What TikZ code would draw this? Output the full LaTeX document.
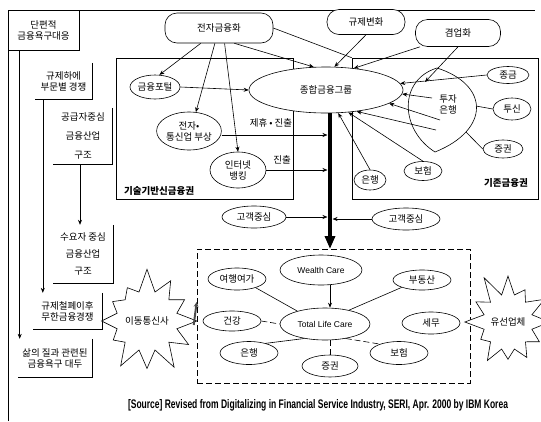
\documentclass[tikz,border=0pt]{standalone}
\usepackage{fontspec}
\setmainfont{Noto Sans CJK KR}
\newfontfamily\lat{Liberation Sans}
\usetikzlibrary{arrows.meta,shapes.geometric,shapes.symbols}
\begin{document}
\begin{tikzpicture}[x=1pt,y=-1pt,
  every node/.style={font=\fontsize{9.5}{11}\selectfont, align=center, inner sep=0pt},
  ell/.style={ellipse, draw, fill=white, line width=0.6pt},
  rbox/.style={rounded corners=12pt, draw, fill=white, line width=0.6pt},
  arr/.style={-{Stealth[length=5pt,width=4pt]}, line width=0.6pt},
  ln/.style={line width=0.6pt},
  dsh/.style={line width=0.6pt, dash pattern=on 6pt off 3pt},
  burst/.style={starburst, draw, fill=white, line width=0.6pt, starburst points=12, starburst point height=24pt},
]
\useasboundingbox (0,0) rectangle (541,421);
% outer frame
\draw[ln] (8,421) -- (8,10) -- (535,10);

% left column
\node[draw, line width=0.6pt, minimum width=71pt, minimum height=40pt] (A) at (43.5,30) {단편적\\금융욕구대응};
\node[minimum width=57pt, minimum height=36pt] (B) at (63.5,81) {규제하에\\부문별 경쟁};
\draw[ln] (B.north east) -- (B.south east) -- (B.south west);
\node[minimum width=59pt, minimum height=56pt, font=\fontsize{9.5}{19}\selectfont] (C) at (83,136) {공급자중심\\금융산업\\구조};
\draw[ln] (C.north east) -- (C.south east) -- (C.south west);
\node[minimum width=60pt, minimum height=58pt, font=\fontsize{9.5}{17}\selectfont] (E) at (83,254) {수요자 중심\\금융산업\\구조};
\draw[ln] (E.north east) -- (E.south east) -- (E.south west);
\node[minimum width=69pt, minimum height=36pt] (D) at (67.5,311) {규제철폐이후\\무한금융경쟁};
\draw[ln] (D.north east) -- (D.south east) -- (D.south west);
\node[minimum width=74pt, minimum height=38pt] (F) at (55,358) {삶의 질과 관련된\\금융욕구 대두};
\draw[ln] (F.north east) -- (F.south east) -- (F.south west);

\draw[arr] ([xshift=12pt]A.south west) -- ([xshift=12pt]A.south west |- F.north);
\draw[arr] ([xshift=8pt]B.south west) -- ([xshift=8pt]B.south west |- D.north);
\draw[arr] ([xshift=-3pt]C.south) -- ([xshift=-3pt]C.south |- E.north);

% top drivers
\node[rbox, minimum width=108pt, minimum height=30pt] (elec) at (219,28) {전자금융화};
\node[rbox, minimum width=78pt, minimum height=25pt] (reg) at (366,22) {규제변화};
\node[rbox, minimum width=85pt, minimum height=27pt] (univ) at (458,33) {겸업화};

% two regions
\node[draw, line width=0.6pt, minimum width=177pt, minimum height=141pt] (tech) at (204.5,128.5) {};
\node[anchor=west, font=\bfseries\fontsize{9.5}{11}\selectfont] (techlbl) at (124,191) {기술기반신금융권};
\node[draw, line width=0.6pt, minimum width=186pt, minimum height=141pt] (exist) at (445,128.5) {};
\node[font=\bfseries\fontsize{9.5}{11}\selectfont] (existlbl) at (506,183) {기존금융권};

% central group
\node[ell, minimum width=154pt, minimum height=46pt] (group) at (326,90) {종합금융그룹};

% tech nodes
\node[ell, minimum width=50pt, minimum height=24pt] (portal) at (155,87) {금융포털};
\node[ell, minimum width=64pt, minimum height=38pt] (telco) at (189,131) {전자•\\통신업 부상};
\node[ell, minimum width=56pt, minimum height=36pt] (inet) at (238,170) {인터넷\\뱅킹};
\node (l1) at (271,123) {제휴 • 진출};
\node (l2) at (282,160) {진출};

% existing nodes
\node[ell, minimum width=32pt, minimum height=20pt] (bank) at (370,180) {은행};
\node[ell, minimum width=38pt, minimum height=19pt] (ins) at (423,171) {보험};
\node[ell, minimum width=42pt, minimum height=17pt] (jg) at (508,75) {종금};
\node[ell, minimum width=38pt, minimum height=22pt] (ts) at (512,109) {투신};
\node[ell, minimum width=40pt, minimum height=18pt] (sec) at (503,149) {증권};
\draw[ln] (437,68) .. controls (398,80) and (400,130) .. (435,152) .. controls (490,130) and (490,85) .. (437,68);
\node (ib) at (448,104) {투자\\은행};
\coordinate (ibR) at (476,106);
\coordinate (ibB) at (466,132);
\draw[ln] (ts.west) -- (ibR);
\draw[ln] (sec.west) -- (ibB);
\draw[arr] (jg.west) -- (group.5);
\draw[arr] (432,98) -- (group.-3);
\draw[arr] (440,120) -- (group.-12);
\draw[arr] (436,130) -- (group.-35);
\draw[arr] (bank.north) -- (group.-62);
\draw[arr] (ins.north) -- (group.-45);

% driver arrows
\draw[arr] (elec.220) -- (portal.70);
\draw[arr] (elec.255) -- (telco.70);
\draw[arr] (elec.290) -- (inet.north);
\draw[arr] (elec.315) -- (group.118);
\draw[ln] (elec.east) -- (exist.north west);
\draw[arr] (reg.south) -- (group.70);
\draw[arr] (univ.200) -- (group.38);
\draw[arr] (univ.south) -- (425,82);

% customer ellipses
\node[ell, minimum width=64pt, minimum height=22pt] (cl) at (254,217) {고객중심};
\node[ell, minimum width=68pt, minimum height=22pt] (cr) at (406,219) {고객중심};

% spine
\coordinate (sl) at (327.5,0);
\coordinate (sr) at (332.5,0);
\draw[arr] (portal.east) -- (group.west);
\draw[arr] (telco.east |- 0,135) -- (sl |- 0,135);
\draw[arr] (inet.east |- 0,170) -- (sl |- 0,170);
\draw[arr] (cl.east) -- (sl |- cl.east);
\draw[arr] (cr.west) -- (sr |- cr.west);

% life care region
\node[draw, dsh, minimum width=273pt, minimum height=134pt] (life) at (333.5,316) {};
\draw[line width=3.2pt, -{Triangle[length=13pt,width=10pt]}] (330,113) -- (330 ,249) coordinate (spineend);

\node[ell, minimum width=82pt, minimum height=30pt, font=\lat\fontsize{8.5}{10}\selectfont] (wc) at (321,270) {Wealth Care};
\node[ell, minimum width=90pt, minimum height=32pt, font=\lat\fontsize{8.5}{10}\selectfont] (tlc) at (325,324) {Total Life Care};
\node[ell, minimum width=58pt, minimum height=22pt] (trav) at (237,279) {여행여가};
\node[ell, minimum width=58pt, minimum height=20pt] (hlth) at (232,321) {건강};
\node[ell, minimum width=58pt, minimum height=23pt] (bk2) at (249,353) {은행};
\node[ell, minimum width=56pt, minimum height=22pt] (sc2) at (330,366) {증권};
\node[ell, minimum width=58pt, minimum height=20pt] (re) at (422,280) {부동산};
\node[ell, minimum width=58pt, minimum height=22pt] (tax) at (431,323) {세무};
\node[ell, minimum width=58pt, minimum height=23pt] (in2) at (399,353) {보험};

\draw[arr] (wc.south -| 330,0) -- (tlc.north -| 330,0);
\draw[ln] (trav.-25) -- (tlc.155);
\draw[dsh] (hlth.east) -- (tlc.west);
\draw[ln] (bk2.30) -- (tlc.215);
\draw[dsh] (sc2.north) -- (tlc.south -| sc2.north);
\draw[ln] (re.200) -- (tlc.30);
\draw[dsh] (tlc.-35) -- (in2.155);

% starbursts
\node[burst, minimum width=76pt, minimum height=108pt, random starburst=7] (mob) at (147,321) {이동통신사};
\node[burst, minimum width=76pt, minimum height=104pt, random starburst=11] (wire) at (508,322) {유선업체};
\draw[line width=2pt, gray!60!black, -{Stealth[length=5pt,width=5pt]}] (mob.east) ++(-4,4) -- (life.west |- 0,302);

% source
\node[font=\lat\bfseries] (src) at (318,405) {\resizebox{380pt}{9pt}{[Source] Revised from Digitalizing in Financial Service Industry, SERI, Apr. 2000 by IBM Korea}};
\end{tikzpicture}
\end{document}
